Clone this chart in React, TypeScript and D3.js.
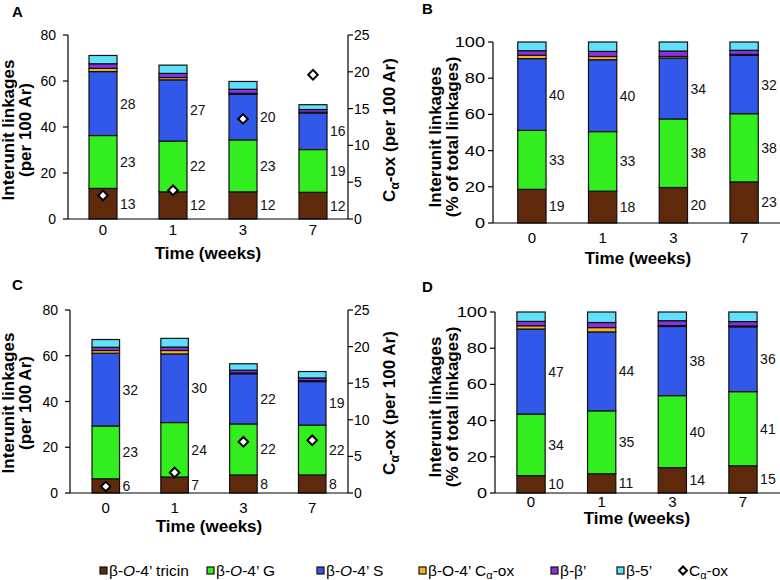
import React from "react";
import * as d3 from "d3";

const FONT = "'Liberation Sans', Arial, Helvetica, sans-serif";

const weeks = ["0", "1", "3", "7"];

// Panel A (per 100 Ar)
const aTricin = [13.3, 11.8, 11.8, 11.6];
const aG = [23.0, 22.1, 22.6, 18.6];
const aS = [27.8, 26.6, 19.8, 15.9];
const aCaOx = [1.4, 1.0, 0.4, 0.3];
const aBB = [2.0, 1.8, 1.8, 1.2];
const aB5 = [3.6, 3.6, 3.4, 2.1];
const aDiamond = [3.2, 3.9, 13.6, 19.6];

// Panel B (% of total linkages)
const bTricin = [18.6, 17.6, 19.6, 22.7];
const bG = [32.6, 32.9, 37.9, 37.7];
const bS = [39.6, 39.7, 33.6, 32.2];
const bCaOx = [1.9, 1.8, 0.9, 0.5];
const bBB = [2.5, 2.8, 3.0, 2.3];
const bB5 = [4.8, 5.2, 5.0, 4.6];

// Panel C (per 100 Ar)
const cTricin = [6.2, 7.0, 7.9, 7.9];
const cG = [23.1, 23.8, 22.3, 21.8];
const cS = [31.8, 30.0, 21.9, 19.0];
const cCaOx = [1.2, 1.5, 0.4, 0.4];
const cBB = [1.4, 1.5, 1.2, 1.2];
const cB5 = [3.4, 3.8, 2.8, 2.8];
const cDiamond = [0.9, 2.8, 7.0, 7.2];

// Panel D (% of total linkages)
const dTricin = [9.6, 10.6, 14.0, 15.0];
const dG = [34.0, 34.8, 39.8, 41.0];
const dS = [47.0, 43.6, 38.2, 35.8];
const dCaOx = [1.8, 2.4, 0.5, 0.5];
const dBB = [2.4, 2.8, 2.7, 2.4];
const dB5 = [5.2, 5.8, 4.8, 5.3];

const keys = ["tricin", "G", "S", "caox", "bb", "b5"];
const colors: Record<string, string> = {
  tricin: "#5f2a0b",
  G: "#33ee1e",
  S: "#3258ea",
  caox: "#f5b41f",
  bb: "#8a2fe2",
  b5: "#5fe1fb",
};
const labeledKeys = ["tricin", "G", "S"];

const legendItems = [
  { key: "tricin", label: ["β-", "O", "-4’ tricin"] },
  { key: "G", label: ["β-", "O", "-4’ G"] },
  { key: "S", label: ["β-", "O", "-4’ S"] },
  { key: "caox", label: ["β-O-4’ C", "α", "-ox"] },
  { key: "bb", label: ["β-β’"] },
  { key: "b5", label: ["β-5’"] },
];

type PanelCfg = {
  letter: string;
  letterPos: [number, number];
  series: number[][];
  diamonds?: number[];
  yMax: number;
  yTop: number;
  yBottom: number;
  axisX: number;
  xRange: [number, number];
  outer: number;
  xEnd: number;
  rightAxisX?: number;
  titleLines: string[];
  titleX: [number, number];
  titleY: number;
  rightTitleX?: number;
  tickLabelDy: number;
  timeDy: number;
  stretchTicks: boolean;
};

function Panel({ cfg }: { cfg: PanelCfg }) {
  const rows = weeks.map((w, i) => {
    const r: any = { week: w };
    keys.forEach((k, j) => (r[k] = cfg.series[j][i]));
    return r;
  });
  const stacked = d3.stack().keys(keys)(rows);
  const x = d3
    .scaleBand()
    .domain(weeks)
    .range(cfg.xRange)
    .paddingInner(0.6)
    .paddingOuter(cfg.outer);
  const y = d3.scaleLinear().domain([0, cfg.yMax]).range([cfg.yBottom, cfg.yTop]);
  const yR = d3.scaleLinear().domain([0, 25]).range([cfg.yBottom, cfg.yTop]);
  const bw = x.bandwidth();
  const yTicks = y.ticks(cfg.yMax === 80 ? 4 : 5);
  const first = x(weeks[0])! + bw / 2;
  const last = x(weeks[weeks.length - 1])! + bw / 2;
  const midX = (first + last) / 2;
  const diamond = d3.symbol(d3.symbolSquare, 46)();

  return (
    <g fontFamily={FONT}>
      <text x={cfg.letterPos[0]} y={cfg.letterPos[1]} fontSize={15} fontWeight="bold">
        {cfg.letter}
      </text>
      {/* bars */}
      {stacked.map((s) => (
        <g key={s.key}>
          {s.map((d, i) => (
            <rect
              key={i}
              x={x(weeks[i])}
              width={bw}
              y={y(d[1])}
              height={y(d[0]) - y(d[1])}
              fill={colors[s.key]}
              stroke="#111"
              strokeWidth={1.2}
            />
          ))}
        </g>
      ))}
      {/* value labels */}
      {stacked
        .filter((s) => labeledKeys.includes(s.key))
        .map((s) => {
          const j = keys.indexOf(s.key);
          return s.map((d, i) => (
            <text
              key={s.key + i}
              x={x(weeks[i])! + bw + 3}
              y={y((d[0] + d[1]) / 2)}
              dy="0.36em"
              fontSize={14}
              fill="#111"
            >
              {Math.round(cfg.series[j][i] + 1e-6)}
            </text>
          ));
        })}
      {/* diamonds */}
      {cfg.diamonds &&
        cfg.diamonds.map((v, i) => (
          <path
            key={"dm" + i}
            d={diamond!}
            transform={`translate(${x(weeks[i])! + bw / 2},${yR(v)}) rotate(45)`}
            fill="#fff"
            stroke="#000"
            strokeWidth={2}
          />
        ))}
      {/* left axis */}
      <line x1={cfg.axisX} x2={cfg.axisX} y1={y(cfg.yMax)} y2={y(0)} stroke="#000" strokeWidth={1.2} />
      {yTicks.map((t) => (
        <g key={"yt" + t}>
          <line x1={cfg.axisX - 5} x2={cfg.axisX} y1={y(t)} y2={y(t)} stroke="#000" strokeWidth={1.2} />
          {cfg.stretchTicks ? (
            <text
              transform={`translate(${cfg.axisX - 8},${y(t)}) scale(1.3,1)`}
              dy="0.36em"
              textAnchor="end"
              fontSize={14}
            >
              {t}
            </text>
          ) : (
            <text x={cfg.axisX - 12} y={y(t)} dy="0.36em" textAnchor="end" fontSize={14}>
              {t}
            </text>
          )}
        </g>
      ))}
      {/* x axis */}
      <line x1={cfg.axisX} x2={cfg.xEnd} y1={y(0)} y2={y(0)} stroke="#000" strokeWidth={1.2} />
      {weeks.map((w) => (
        <text
          key={"xt" + w}
          x={x(w)! + bw / 2}
          y={y(0) + cfg.tickLabelDy}
          textAnchor="middle"
          fontSize={15}
        >
          {w}
        </text>
      ))}
      <text x={midX} y={y(0) + cfg.timeDy} textAnchor="middle" fontSize={17} fontWeight="bold">
        Time (weeks)
      </text>
      {/* left title */}
      {cfg.titleLines.map((l, i) => (
        <text
          key={"tl" + i}
          transform={`translate(${cfg.titleX[i]},${cfg.titleY}) rotate(-90)`}
          textAnchor="middle"
          fontSize={17}
          fontWeight="bold"
        >
          {l}
        </text>
      ))}
      {/* right axis */}
      {cfg.rightAxisX !== undefined && (
        <g>
          <line
            x1={cfg.rightAxisX}
            x2={cfg.rightAxisX}
            y1={yR(25)}
            y2={yR(0)}
            stroke="#000"
            strokeWidth={1.2}
          />
          {yR.ticks(5).map((t) => (
            <g key={"yr" + t}>
              <line
                x1={cfg.rightAxisX}
                x2={cfg.rightAxisX! + 5}
                y1={yR(t)}
                y2={yR(t)}
                stroke="#000"
                strokeWidth={1.2}
              />
              <text x={cfg.rightAxisX! + 6} y={yR(t)} dy="0.36em" fontSize={14}>
                {t}
              </text>
            </g>
          ))}
          <text
            transform={`translate(${cfg.rightTitleX},${cfg.titleY}) rotate(-90)`}
            textAnchor="middle"
            fontSize={17}
            fontWeight="bold"
          >
            C
            <tspan fontSize={12} dy={4}>
              α
            </tspan>
            <tspan dy={-4}>-ox (per 100 Ar)</tspan>
          </text>
        </g>
      )}
    </g>
  );
}

const panels: PanelCfg[] = [
  {
    letter: "A",
    letterPos: [12, 17],
    series: [aTricin, aG, aS, aCaOx, aBB, aB5],
    diamonds: aDiamond,
    yMax: 80,
    yTop: 35,
    yBottom: 219,
    axisX: 68,
    xRange: [68, 348],
    outer: 0.3,
    xEnd: 348,
    rightAxisX: 348,
    titleLines: ["Interunit linkages", "(per 100 Ar)"],
    titleX: [14, 30.5],
    titleY: 130,
    rightTitleX: 395,
    tickLabelDy: 16,
    timeDy: 40,
    stretchTicks: false,
  },
  {
    letter: "B",
    letterPos: [422, 14],
    series: [bTricin, bG, bS, bCaOx, bBB, bB5],
    yMax: 100,
    yTop: 42,
    yBottom: 223,
    axisX: 493,
    xRange: [493, 783],
    outer: 0.35,
    xEnd: 780,
    titleLines: ["Interunit linkages", "(% of total linkages)"],
    titleX: [440.5, 457.5],
    titleY: 137,
    tickLabelDy: 20,
    timeDy: 41,
    stretchTicks: true,
  },
  {
    letter: "C",
    letterPos: [12, 290],
    series: [cTricin, cG, cS, cCaOx, cBB, cB5],
    diamonds: cDiamond,
    yMax: 80,
    yTop: 310,
    yBottom: 493,
    axisX: 70,
    xRange: [70, 348],
    outer: 0.32,
    xEnd: 348,
    rightAxisX: 348,
    titleLines: ["Interunit linkages", "(per 100 Ar)"],
    titleX: [14, 30.5],
    titleY: 403,
    rightTitleX: 395,
    tickLabelDy: 20,
    timeDy: 39,
    stretchTicks: false,
  },
  {
    letter: "D",
    letterPos: [422, 292],
    series: [dTricin, dG, dS, dCaOx, dBB, dB5],
    yMax: 100,
    yTop: 312,
    yBottom: 493,
    axisX: 495,
    xRange: [495, 779],
    outer: 0.31,
    xEnd: 780,
    titleLines: ["Interunit linkages", "(% of total linkages)"],
    titleX: [440.5, 457.5],
    titleY: 407,
    tickLabelDy: 14,
    timeDy: 31,
    stretchTicks: true,
  },
];

const legendX = [100, 207, 317, 419, 551, 617];
const legendDiamondX = 683;

function Legend() {
  const cy = 570.5;
  return (
    <g fontFamily={FONT} fontSize={15.5}>
      {legendItems.map((it, i) => (
        <g key={it.key}>
          <rect
            x={legendX[i]}
            y={cy - 3.5}
            width={7}
            height={7}
            fill={colors[it.key]}
            stroke="#111"
            strokeWidth={1.2}
          />
          <text x={legendX[i] + 9} y={cy} dy="0.36em">
            {it.key === "caox" ? (
              <>
                β-O-4’ C
                <tspan fontSize={11} dy={3}>
                  α
                </tspan>
                <tspan dy={-3}>-ox</tspan>
              </>
            ) : it.label.length === 3 ? (
              <>
                {it.label[0]}
                <tspan fontStyle="italic">{it.label[1]}</tspan>
                {it.label[2]}
              </>
            ) : (
              it.label[0]
            )}
          </text>
        </g>
      ))}
      <path
        d={d3.symbol(d3.symbolSquare, 32)()!}
        transform={`translate(${legendDiamondX},${cy}) rotate(45)`}
        fill="#fff"
        stroke="#000"
        strokeWidth={2}
      />
      <text x={legendDiamondX + 6} y={cy} dy="0.36em">
        C
        <tspan fontSize={11} dy={3}>
          α
        </tspan>
        <tspan dy={-3}>-ox</tspan>
      </text>
    </g>
  );
}

export default function App() {
  return (
    <svg
      width={780}
      height={580}
      style={{ position: "absolute", left: 0, top: 0, display: "block", background: "#fff" }}
    >
      <rect width={780} height={580} fill="#fff" />
      {panels.map((p) => (
        <Panel key={p.letter} cfg={p} />
      ))}
      <Legend />
    </svg>
  );
}
